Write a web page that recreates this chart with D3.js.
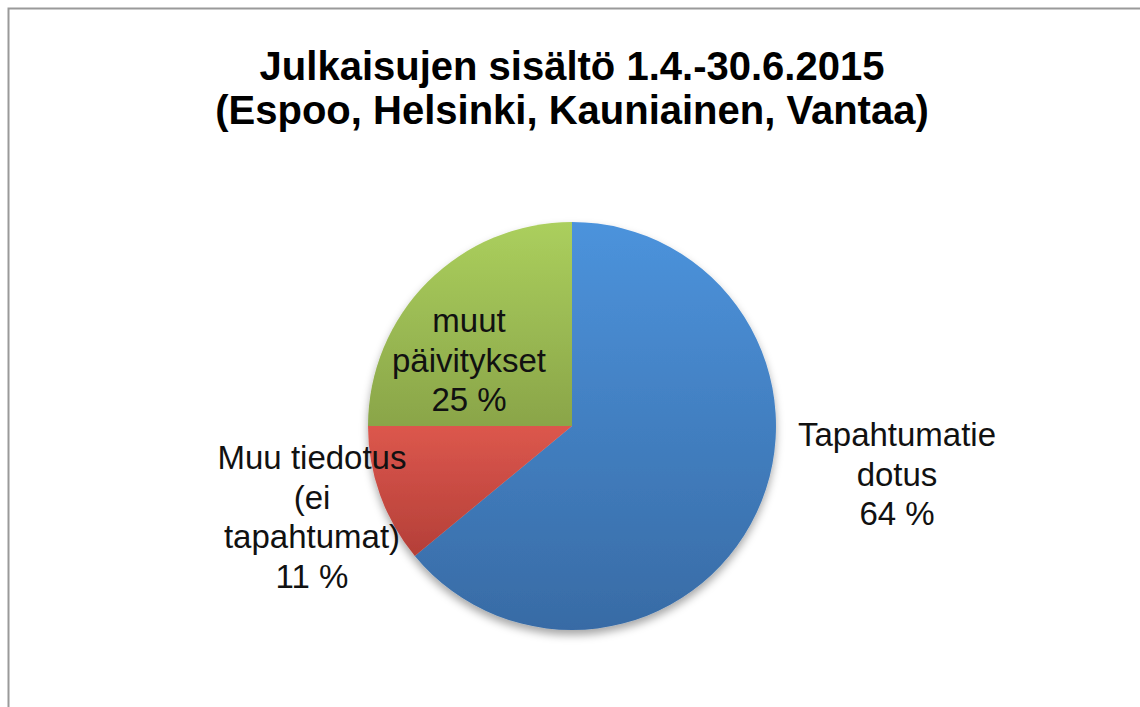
<!DOCTYPE html>
<html>
<head>
<meta charset="utf-8">
<script src="https://cdn.jsdelivr.net/npm/d3@7"></script>
<style>
  body { margin: 0; background: #fff; }
  svg { display: block; font-family: "Liberation Sans", Arial, sans-serif; }
</style>
</head>
<body>
<svg width="1140" height="707"></svg>
<script>
// data
var categories = ["Tapahtumatiedotus", "Muu tiedotus (ei tapahtumat)", "muut päivitykset"];
var values = [64, 11, 25];
var labelLines = [
  ["Tapahtumatie", "dotus", "64 %"],
  ["Muu tiedotus", "(ei", "tapahtumat)", "11 %"],
  ["muut", "päivitykset", "25 %"]
];
var topColors = ["#4c93dc", "#dc574d", "#abcf5d"];
var bottomColors = ["#386ba5", "#b43f38", "#8aa549"];
var titleLines = ["Julkaisujen sisältö 1.4.-30.6.2015", "(Espoo, Helsinki, Kauniainen, Vantaa)"];

var svg = d3.select("svg"),
    width = +svg.attr("width"),
    height = +svg.attr("height");

var cx = 572, cy = 426, radius = 204;

// frame (top and left edge only)
svg.append("path")
    .attr("d", "M8.5," + height + "V8.5H" + width)
    .attr("fill", "none")
    .attr("stroke", "#9a9a9a")
    .attr("stroke-width", 2);

// title
svg.append("text")
    .attr("text-anchor", "middle")
    .attr("font-weight", "bold")
    .attr("font-size", 40)
    .attr("fill", "#000")
    .selectAll("tspan")
    .data(titleLines)
    .enter()
    .append("tspan")
    .attr("x", cx)
    .attr("y", function (d, i) { return 80 + i * 44; })
    .text(function (d) { return d; });

var defs = svg.append("defs");

var shadow = defs.append("filter")
    .attr("id", "shadow")
    .attr("x", "-20%").attr("y", "-20%")
    .attr("width", "140%").attr("height", "140%");
shadow.append("feDropShadow")
    .attr("dx", 0).attr("dy", 5)
    .attr("stdDeviation", 4)
    .attr("flood-color", "#000")
    .attr("flood-opacity", 0.35);

// vertical gradient over each slice's own box
values.forEach(function (v, i) {
    var gr = defs.append("linearGradient")
        .attr("id", "grad" + i)
        .attr("x1", 0).attr("y1", 0)
        .attr("x2", 0).attr("y2", 1);
    gr.append("stop").attr("offset", "0%").attr("stop-color", topColors[i]);
    gr.append("stop").attr("offset", "100%").attr("stop-color", bottomColors[i]);
});

var pie = d3.pie().sort(null).value(function (d) { return d; });
var arc = d3.arc().innerRadius(0).outerRadius(radius);

svg.append("g")
    .attr("transform", "translate(" + cx + "," + cy + ")")
    .attr("filter", "url(#shadow)")
    .selectAll("path")
    .data(pie(values))
    .enter()
    .append("path")
    .attr("d", arc)
    .attr("fill", function (d, i) { return "url(#grad" + i + ")"; });

// label positions (centre x, first baseline)
var labelPos = [
    [897, 446],
    [312, 469],
    [469, 332]
];

svg.append("g")
    .selectAll("text")
    .data(labelLines)
    .enter()
    .append("text")
    .attr("text-anchor", "middle")
    .attr("font-size", 33)
    .attr("fill", "#111")
    .each(function (lines, i) {
        d3.select(this).selectAll("tspan")
            .data(lines)
            .enter()
            .append("tspan")
            .attr("x", labelPos[i][0])
            .attr("y", function (d, j) { return labelPos[i][1] + j * 39.7; })
            .text(function (d) { return d; });
    });
</script>
</body>
</html>
